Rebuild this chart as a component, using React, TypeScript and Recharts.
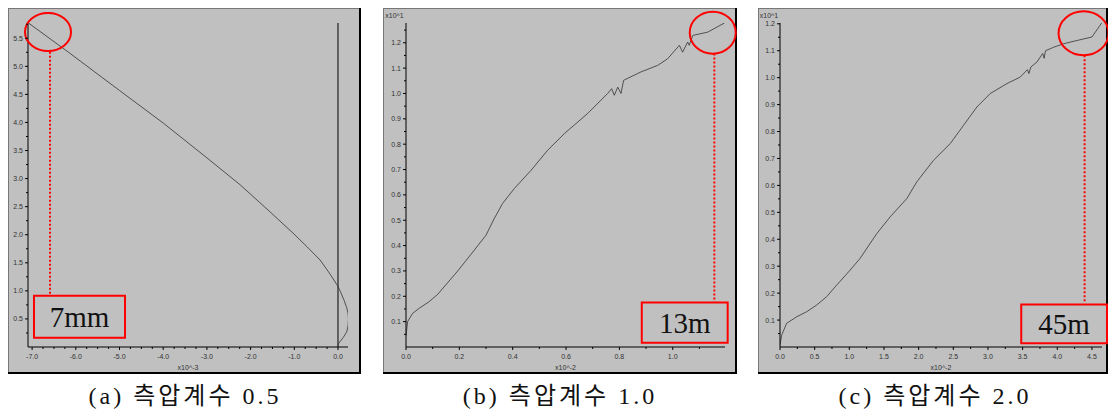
import React from "react";
import {
  LineChart,
  Line,
  XAxis,
  YAxis,
  ReferenceLine,
  ReferenceArea,
  ReferenceDot,
  Label,
} from "recharts";

// (a) 측압계수 0.5 — displacement x10^-3 vs depth
const aX = [-7.08, -6.2, -5.0, -4.0, -3.0, -2.24, -1.6, -1.03, -0.7, -0.41, -0.2, 0.0, 0.07, 0.14, 0.2, 0.23, 0.24, 0.23, 0.2, 0.12, 0.02, 0.0];
const aY = [5.77, 5.27, 4.57, 3.99, 3.37, 2.89, 2.44, 2.03, 1.78, 1.55, 1.32, 1.08, 0.96, 0.83, 0.7, 0.6, 0.5, 0.38, 0.27, 0.17, 0.07, 0.03];
const aXTicks = [-7.0, -6.0, -5.0, -4.0, -3.0, -2.0, -1.0, 0.0];
const aYTicks = [0.5, 1.0, 1.5, 2.0, 2.5, 3.0, 3.5, 4.0, 4.5, 5.0, 5.5];

// (b) 측압계수 1.0
const bX = [0.0, 0.006, 0.025, 0.05, 0.087, 0.119, 0.194, 0.256, 0.3, 0.331, 0.362, 0.406, 0.469, 0.531, 0.594, 0.681, 0.756, 0.771, 0.781, 0.794, 0.806, 0.816, 0.881, 0.944, 0.981, 1.025, 1.037, 1.056, 1.062, 1.075, 1.131, 1.194];
const bY = [0.045, 0.1, 0.133, 0.153, 0.179, 0.208, 0.3, 0.382, 0.441, 0.507, 0.566, 0.625, 0.697, 0.776, 0.842, 0.921, 1.0, 1.019, 0.993, 1.025, 1.0, 1.052, 1.085, 1.111, 1.137, 1.19, 1.163, 1.203, 1.19, 1.229, 1.242, 1.278];
const bXTicks = [0.0, 0.2, 0.4, 0.6, 0.8, 1.0];
const bYTicks = [0.1, 0.2, 0.3, 0.4, 0.5, 0.6, 0.7, 0.8, 0.9, 1.0, 1.1, 1.2];

// (c) 측압계수 2.0
const cX = [0.0, 0.024, 0.096, 0.24, 0.385, 0.53, 0.674, 0.818, 1.01, 1.155, 1.396, 1.588, 1.829, 1.973, 2.214, 2.455, 2.647, 2.84, 3.032, 3.273, 3.465, 3.57, 3.59, 3.62, 3.706, 3.79, 3.81, 3.83, 3.947, 4.091, 4.283, 4.5, 4.645];
const cY = [0.007, 0.044, 0.088, 0.112, 0.131, 0.156, 0.187, 0.23, 0.285, 0.329, 0.421, 0.483, 0.551, 0.613, 0.693, 0.755, 0.823, 0.891, 0.941, 0.978, 1.002, 1.03, 1.015, 1.04, 1.058, 1.09, 1.072, 1.1, 1.113, 1.126, 1.138, 1.151, 1.205];
const cXTicks = [0.0, 0.5, 1.0, 1.5, 2.0, 2.5, 3.0, 3.5, 4.0, 4.5];
const cYTicks = [0.1, 0.2, 0.3, 0.4, 0.5, 0.6, 0.7, 0.8, 0.9, 1.0, 1.1, 1.2];

const captions = ["(a) 측압계수 0.5", "(b) 측압계수 1.0", "(c) 측압계수 2.0"];
const notes = ["7mm", "13m", "45m"];

const TICK_FONT = "'Liberation Sans', Arial, sans-serif";
const SERIF = "'Liberation Serif', 'Noto Sans CJK KR', serif";

function steps(from: number, to: number, step: number) {
  const out: number[] = [];
  for (let v = from; v <= to + 1e-9; v += step) out.push(Math.round(v * 1000) / 1000);
  return out;
}

function isMajor(v: number, majors: number[]) {
  return majors.some((m) => Math.abs(m - v) < 1e-6);
}

const makeXTick = (majors: number[]) => (props: any) => {
  const { x, y, payload } = props;
  const major = isMajor(payload.value, majors);
  return (
    <g>
      <line x1={x} x2={x} y1={y} y2={y + (major ? 3 : 2)} stroke="#000" />
      {major && (
        <text x={x} y={y + 9} textAnchor="middle" dominantBaseline="central" fontSize={7} fontFamily={TICK_FONT} fill="#333">
          {payload.value.toFixed(1)}
        </text>
      )}
    </g>
  );
};

const makeYTick = (majors: number[]) => (props: any) => {
  const { x, y, payload } = props;
  const major = isMajor(payload.value, majors);
  return (
    <g>
      <line x1={x} x2={x - (major ? 3 : 2)} y1={y} y2={y} stroke="#000" />
      {major && (
        <text x={x - 5} y={y} textAnchor="end" dominantBaseline="central" fontSize={7} fontFamily={TICK_FONT} fill="#333">
          {payload.value.toFixed(1)}
        </text>
      )}
    </g>
  );
};

type PanelProps = {
  left: number;
  width: number;
  yAxisWidth: number;
  marginRight: number;
  xs: number[];
  ys: number[];
  xDomain: [number, number];
  yDomain: [number, number];
  xMajors: number[];
  xMinors: number[];
  yMajors: number[];
  yMinors: number[];
  xTitle: string;
  yTitle?: string;
  zeroLine?: boolean;
  circle: { x: number; y: number; rx: number; ry: number };
  guide: { x: number; y1: number; y2: number };
  box: { x1: number; x2: number; y1: number; y2: number };
  note: string;
  caption: string;
  captionX: number;
};

function Panel(p: PanelProps) {
  const data = p.xs.map((x, i) => ({ x, y: p.ys[i] }));
  const xTicks = [...p.xMajors, ...p.xMinors].sort((a, b) => a - b);
  const yTicks = [...p.yMajors, ...p.yMinors].sort((a, b) => a - b);
  return (
    <>
      <div
        style={{
          position: "absolute",
          left: p.left,
          top: 8,
          width: p.width,
          height: 366,
          background: "#c0c0c0",
          boxShadow: "inset -2px -2px 0 #000, inset 1px 1px 0 #777",
        }}
      >
        <LineChart
          width={p.width}
          height={366}
          data={data}
          margin={{ top: 15, right: p.marginRight, bottom: 7, left: 0 }}
        >
          <XAxis
            dataKey="x"
            type="number"
            domain={p.xDomain}
            allowDataOverflow
            ticks={xTicks}
            interval={0}
            height={20}
            tickSize={0}
            tickMargin={0}
            tickLine={false}
            axisLine={{ stroke: "#000" }}
            tick={makeXTick(p.xMajors)}
          >
            <Label value={p.xTitle} position="insideBottom" offset={-3} fontSize={7} fontFamily={TICK_FONT} fill="#333" />
          </XAxis>
          <YAxis
            dataKey="y"
            type="number"
            domain={p.yDomain}
            allowDataOverflow
            ticks={yTicks}
            interval={0}
            width={p.yAxisWidth}
            tickSize={0}
            tickMargin={0}
            tickLine={false}
            axisLine={{ stroke: "#000" }}
            tick={makeYTick(p.yMajors)}
          >
            {p.yTitle && (
              <Label value={p.yTitle} position="top" offset={5} fontSize={7} fontFamily={TICK_FONT} fill="#333" />
            )}
          </YAxis>
          {p.zeroLine && <ReferenceLine x={0} stroke="#000" strokeWidth={1} />}
          <Line
            type="linear"
            dataKey="y"
            stroke="#333"
            strokeWidth={0.8}
            dot={false}
            isAnimationActive={false}
          />
          <ReferenceLine
            segment={[
              { x: p.guide.x, y: p.guide.y1 },
              { x: p.guide.x, y: p.guide.y2 },
            ]}
            stroke="#ff0000"
            strokeWidth={2}
            strokeDasharray="2 2"
            ifOverflow="visible"
          />
          <ReferenceArea
            x1={p.box.x1}
            x2={p.box.x2}
            y1={p.box.y1}
            y2={p.box.y2}
            stroke="#ff0000"
            strokeWidth={2}
            fill="none"
            fillOpacity={0}
            ifOverflow="visible"
          >
            <Label value={p.note} position="center" fontSize={29} fontFamily={SERIF} fill="#111" />
          </ReferenceArea>
          <ReferenceDot
            x={p.circle.x}
            y={p.circle.y}
            ifOverflow="visible"
            shape={(s: any) => (
              <ellipse cx={s.cx} cy={s.cy} rx={p.circle.rx} ry={p.circle.ry} fill="none" stroke="#ff0000" strokeWidth={2} />
            )}
          />
        </LineChart>
      </div>
      <div
        style={{
          position: "absolute",
          left: p.captionX - 150,
          top: 381,
          width: 300,
          height: 30,
          lineHeight: "30px",
          textAlign: "center",
          fontFamily: SERIF,
          fontSize: 24,
          letterSpacing: 3,
          color: "#111",
          whiteSpace: "nowrap",
        }}
      >
        {p.caption}
      </div>
    </>
  );
}

export default function App() {
  return (
    <div style={{ position: "absolute", left: 0, top: 0, width: 1108, height: 412, background: "#fff", overflow: "hidden" }}>
      <Panel
        left={8}
        width={353}
        yAxisWidth={20}
        marginRight={13}
        xs={aX}
        ys={aY}
        xDomain={[-7.094, 0.229]}
        yDomain={[0, 5.772]}
        xMajors={aXTicks}
        xMinors={steps(-6.75, -0.25, 0.25).filter((v) => !isMajor(v, aXTicks))}
        yMajors={aYTicks}
        yMinors={steps(0.25, 5.75, 0.5)}
        xTitle="x10^-3"
        zeroLine
        circle={{ x: -6.636, y: 5.612, rx: 23, ry: 19 }}
        guide={{ x: -6.59, y1: 5.26, y2: 0.93 }}
        box={{ x1: -6.957, x2: -4.874, y1: 0.915, y2: 0.167 }}
        note={notes[0]}
        caption={captions[0]}
        captionX={185}
      />
      <Panel
        left={383}
        width={354}
        yAxisWidth={23}
        marginRight={12}
        xs={bX}
        ys={bY}
        xDomain={[0, 1.196]}
        yDomain={[0, 1.278]}
        xMajors={bXTicks}
        xMinors={steps(0.1, 1.1, 0.2)}
        yMajors={bYTicks}
        yMinors={steps(0.05, 1.25, 0.1)}
        xTitle="x10^-2"
        yTitle="x10^1"
        circle={{ x: 1.15, y: 1.24, rx: 23, ry: 21 }}
        guide={{ x: 1.156, y1: 1.158, y2: 0.178 }}
        box={{ x1: 0.884, x2: 1.206, y1: 0.176, y2: 0.017 }}
        note={notes[1]}
        caption={captions[1]}
        captionX={560}
      />
      <Panel
        left={758}
        width={350}
        yAxisWidth={22}
        marginRight={6}
        xs={cX}
        ys={cY}
        xDomain={[0, 4.645]}
        yDomain={[0, 1.203]}
        xMajors={cXTicks}
        xMinors={steps(0.25, 4.25, 0.5)}
        yMajors={cYTicks}
        yMinors={steps(0.05, 1.15, 0.1)}
        xTitle="x10^-2"
        yTitle="x10^1"
        circle={{ x: 4.379, y: 1.165, rx: 25, ry: 22 }}
        guide={{ x: 4.394, y1: 1.083, y2: 0.167 }}
        box={{ x1: 3.48, x2: 4.717, y1: 0.158, y2: 0.014 }}
        note={notes[2]}
        caption={captions[2]}
        captionX={935}
      />
    </div>
  );
}
